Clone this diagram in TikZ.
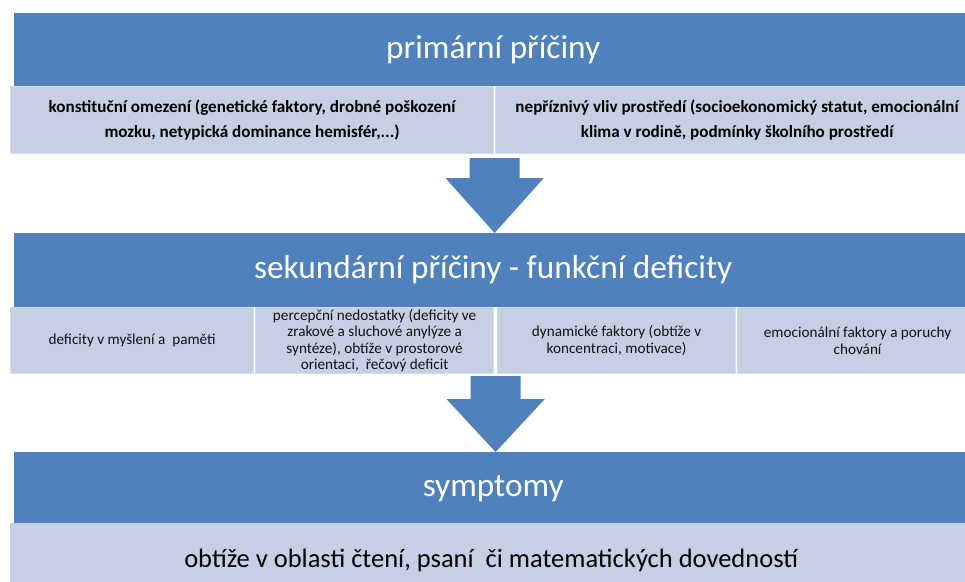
\documentclass[tikz,border=0pt]{standalone}
\usepackage{fontspec}
\setmainfont{Carlito}
\usetikzlibrary{calc}
\definecolor{barblue}{HTML}{4F81BD}
\definecolor{panelfill}{HTML}{C5D0E4}
\definecolor{panelline}{HTML}{D4DBE9}
\definecolor{boxtext}{HTML}{111111}
\begin{document}
\begin{tikzpicture}[x=1pt,y=-1pt,
  bar/.style={fill=barblue, draw=none, inner sep=0pt, anchor=north west,
    minimum width=958pt, text=white, text height=25pt, text depth=8pt,
    font=\fontsize{33.3}{36}\selectfont},
  topbox/.style={fill=panelfill, draw=panelline, line width=1.2pt, inner sep=0pt,
    anchor=north west, minimum width=483pt, minimum height=67pt, align=center,
    text=black, font=\fontsize{17.1}{24.5}\selectfont\bfseries},
  midbox/.style={fill=panelfill, draw=panelline, line width=1.2pt, inner sep=0pt,
    anchor=north west, minimum height=66pt, align=center,
    text=boxtext, font=\fontsize{15.2}{16.6}\selectfont},
  botbox/.style={fill=panelfill, draw=none, inner sep=0pt, anchor=north west,
    minimum width=962pt, minimum height=74pt, text=black,
    font=\fontsize{26.5}{30}\selectfont},
  blockarrow/.style={fill=barblue, draw=none}
]
\clip (0,0) rectangle (965,581);
\fill[white] (0,0) rectangle (965,581);

% level 1
\node[bar, minimum height=73pt] (prim) at (14,13) {primární příčiny};
\node[topbox] (k1) at (10,86) {konstituční omezení (genetické faktory, drobné poškození\\mozku, netypická dominance hemisfér,...)};
\node[topbox] (k2) at (495,86) {nepříznivý vliv prostředí (socioekonomický statut, emocionální\\klima v rodině, podmínky školního prostředí};

% level 2
\node[bar, minimum height=74pt] (sec) at (14,233) {sekundární příčiny - funkční deficity};
\node[midbox, minimum width=243pt] (b1) at (10,307) {deficity v myšlení a\ \ paměti};
\node[midbox, minimum width=238pt] (b2) at (255,307) {percepční nedostatky (deficity ve\\zrakové a sluchové anylýze a\\syntéze), obtíže v prostorové\\orientaci,\ \ řečový deficit};
\node[midbox, minimum width=238pt] (b3) at (497,307) {dynamické faktory (obtíže v\\koncentraci, motivace)};
\node[midbox, minimum width=240pt] (b4) at (737,307) {emocionální faktory a poruchy\\chování};

% level 3
\node[bar, minimum height=71pt] (sym) at (14,452) {symptomy};
\node[botbox] (obt) at (10,523) {obtíže v oblasti čtení, psaní\ \ či matematických dovedností};

% block arrows
\coordinate (a1) at ($(k1.south east)!0.5!(k2.south west)$);
\fill[blockarrow] ($(a1)+(-25,4)$) -- ++(50,0) -- ++(0,20) -- ++(24,0)
  -- (a1 |- sec.north) -- ($(a1)+(-49,24)$) -- ++(24,0) -- cycle;

\coordinate (a2) at ($(b2.south east)!0.5!(b3.south west)$);
\fill[blockarrow] ($(a2)+(-25,2)$) -- ++(50,0) -- ++(0,23) -- ++(24,0)
  -- (a2 |- sym.north) -- ($(a2)+(-49,25)$) -- ++(24,0) -- cycle;
\end{tikzpicture}
\end{document}
